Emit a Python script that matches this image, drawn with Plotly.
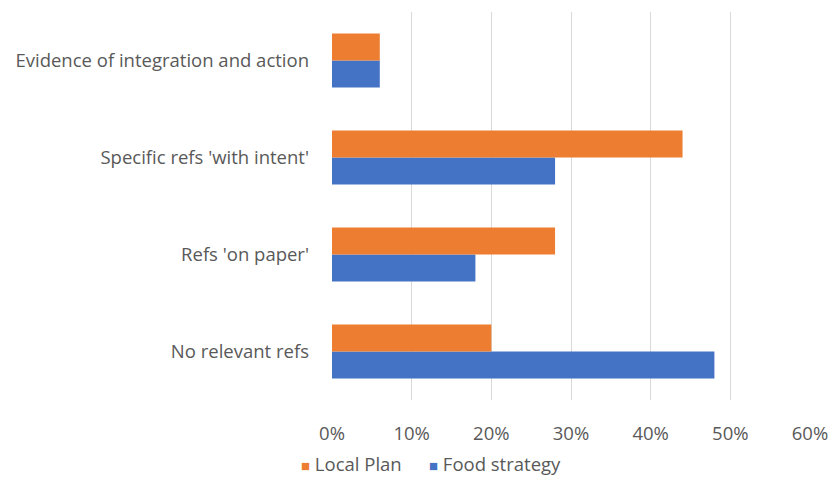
import plotly.graph_objects as go

categories = ["No relevant refs", "Refs 'on paper'", "Specific refs 'with intent'", "Evidence of integration and action"]
local_plan = [0.20, 0.28, 0.44, 0.06]
food_strategy = [0.48, 0.18, 0.28, 0.06]
tick_vals = [0, 0.1, 0.2, 0.3, 0.4, 0.5, 0.6]
tick_text = ["0%", "10%", "20%", "30%", "40%", "50%", "60%"]
series_names = ["Local Plan", "Food strategy"]
series_colors = ["#ED7D31", "#4472C4"]

font_family = "Open Sans, Liberation Sans, sans-serif"
grey = "#595959"
fs = 18.5

fig = go.Figure()
fig.add_trace(go.Bar(y=categories, x=food_strategy, name=series_names[1], orientation="h",
                     marker=dict(color=series_colors[1], line=dict(width=0))))
fig.add_trace(go.Bar(y=categories, x=local_plan, name=series_names[0], orientation="h",
                     marker=dict(color=series_colors[0], line=dict(width=0))))

fig.update_layout(
    width=832, height=488,
    margin=dict(l=332, r=22, t=12, b=88, autoexpand=False),
    paper_bgcolor="white", plot_bgcolor="white",
    barmode="group", bargap=0.444, bargroupgap=0,
    font=dict(family=font_family, size=fs, color=grey),
    xaxis=dict(range=[0, 0.6], tickvals=tick_vals, ticktext=tick_text,
               showgrid=True, gridcolor="#d9d9d9", gridwidth=1, automargin=False,
               zeroline=False, showline=False, ticks="", ticklabelstandoff=20,
               tickfont=dict(size=fs, color=grey)),
    yaxis=dict(showgrid=False, zeroline=False, showline=False, ticks="", automargin=False,
               ticklabelstandoff=22, tickfont=dict(size=fs, color=grey)),
    showlegend=False,
)

# legend drawn as text with coloured squares
legend_x = [299, 427]
for name, color, lx in zip(series_names, series_colors, legend_x):
    fig.add_annotation(
        xref="paper", yref="paper",
        x=(lx - 332) / (832 - 332 - 22), y=-(463 - 400) / (488 - 12 - 88),
        xanchor="left", yanchor="middle", showarrow=False,
        text=f"<span style='color:{color};font-size:15px'>■</span> {name}",
        font=dict(size=fs, color=grey, family=font_family),
    )

fig.write_html("out.html")
